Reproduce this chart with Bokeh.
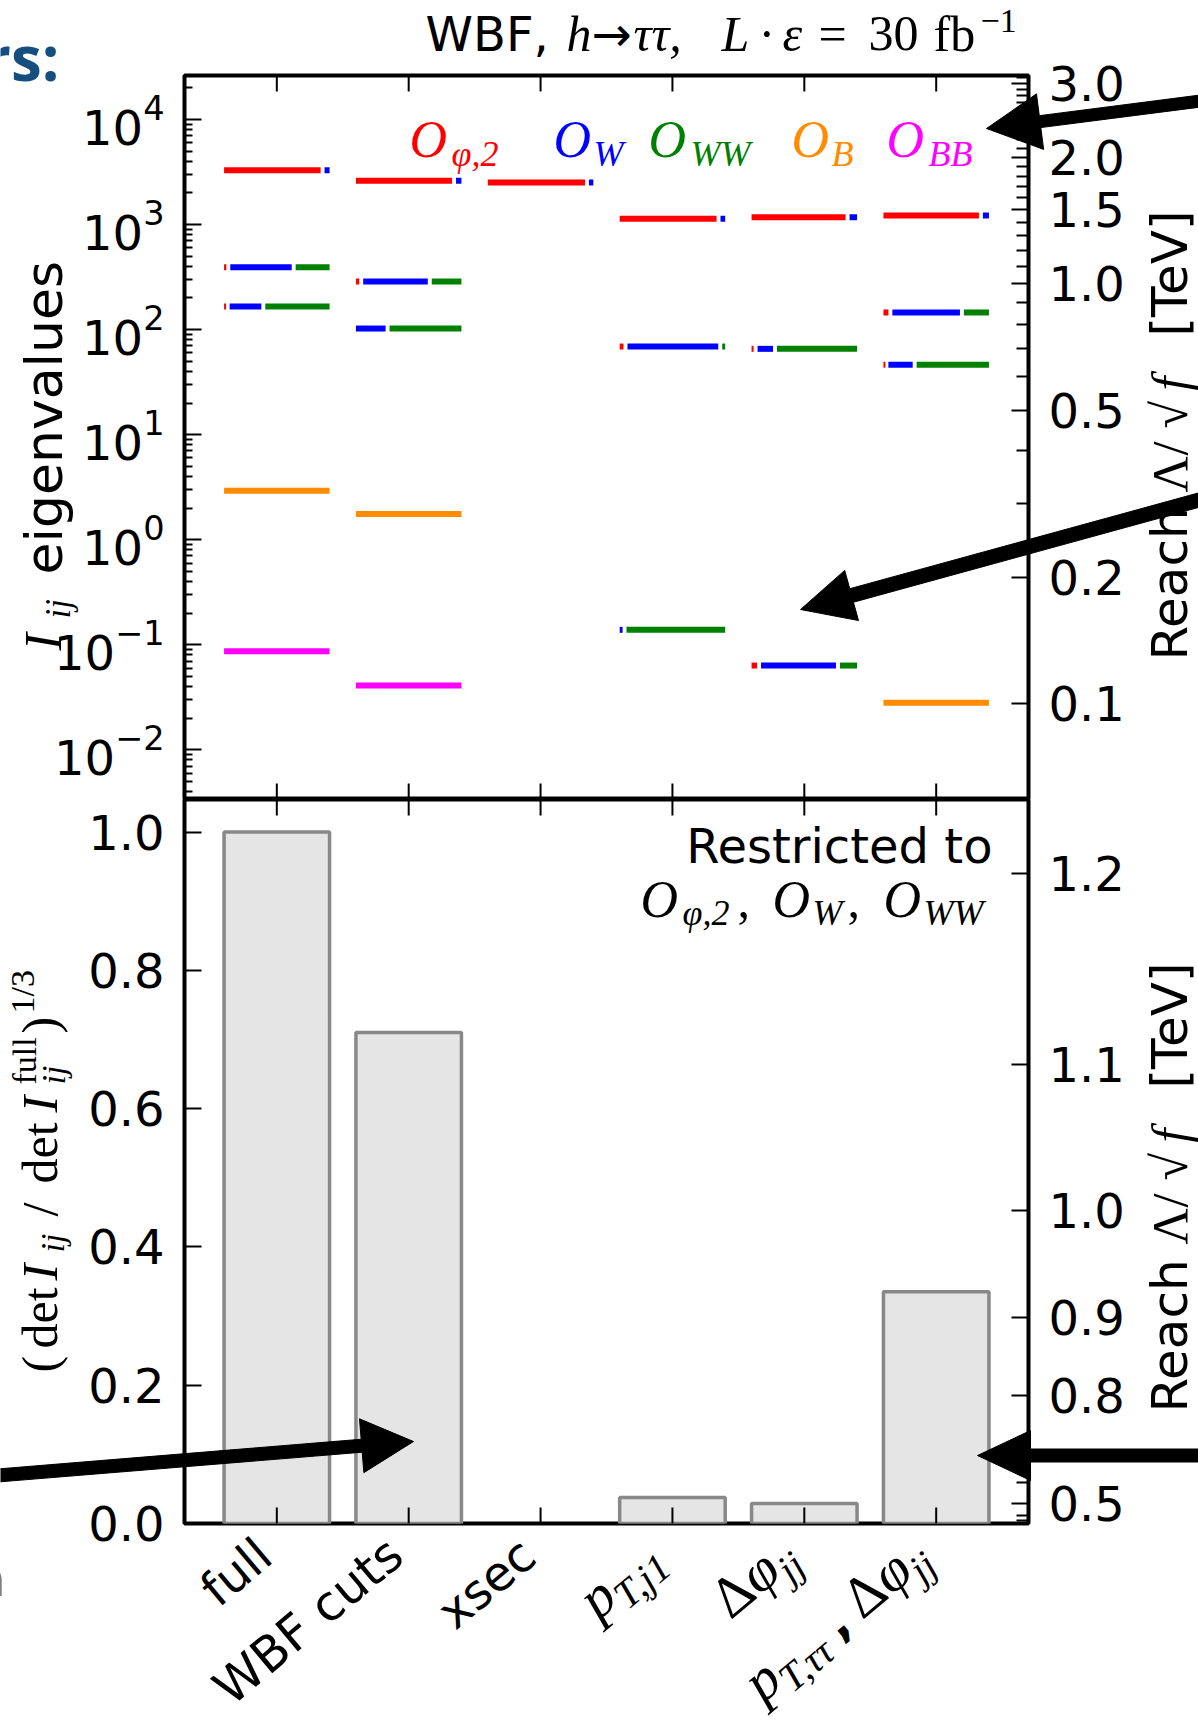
import math
from bokeh.plotting import figure
from bokeh.models import (Range1d, LinearAxis, FixedTicker, PrintfTickFormatter,
                          CustomJSTickFormatter, LogTickFormatter, Label, ColumnDataSource)
from bokeh.layouts import column
from bokeh.embed import file_html
from bokeh.resources import INLINE

# ---------------------------------------------------------------- data
CATEGORIES = ["full", "WBF cuts", "xsec", "p_T,j1", "Δφ_jj", "p_T,ττ, Δφ_jj"]
OPERATORS = ["O_φ,2", "O_W", "O_WW", "O_B", "O_BB"]
OP_COLORS = ["#ff0000", "#0000ff", "#008000", "#ff8c00", "#ff00ff"]

# Fisher-information eigenvalues per category
EIGENVALUES = [
    [3290, 393, 166, 2.92, 0.0869],
    [2608, 287, 102.4, 1.76, 0.0409],
    [2512],
    [1134, 69.0, 0.1387],
    [1175, 65.6, 0.0634],
    [1219, 145.6, 46.3, 0.0280],
]
# eigenvector composition (share of O_phi2, O_W, O_WW, O_B, O_BB)
EIGEN_MIX = [
    [[0.934, 0.066, 0, 0, 0], [0.04, 0.62, 0.34, 0, 0], [0.034, 0.338, 0.628, 0, 0],
     [0, 0, 0, 1, 0], [0, 0, 0, 0, 1]],
    [[0.93, 0.07, 0, 0, 0], [0.05, 0.65, 0.30, 0, 0], [0, 0.30, 0.70, 0, 0],
     [0, 0, 0, 1, 0], [0, 0, 0, 0, 1]],
    [[0.94, 0.06, 0, 0, 0]],
    [[0.937, 0.063, 0, 0, 0], [0.055, 0.898, 0.047, 0, 0], [0, 0.046, 0.954, 0, 0]],
    [[0.91, 0.09, 0, 0, 0], [0.038, 0.184, 0.778, 0, 0], [0.071, 0.748, 0.181, 0, 0]],
    [[0.924, 0.076, 0, 0, 0], [0.066, 0.678, 0.256, 0, 0], [0.028, 0.268, 0.704, 0, 0],
     [0, 0, 0, 1, 0]],
]
# (det I / det I_full)^(1/3), restricted to O_phi2, O_W, O_WW
DET_RATIO = [1.0, 0.71, 0.0, 0.0376, 0.029, 0.335]

LEFT_DECADES = [1e-2, 1e-1, 1e0, 1e1, 1e2, 1e3, 1e4]
LEFT_MINOR = [m * 10.0 ** k for k in range(-3, 5) for m in range(2, 10)]
BOT_LEFT_TICKS = [0.0, 0.2, 0.4, 0.6, 0.8, 1.0]

REACH_TOP_MAJOR = [0.1, 0.2, 0.5, 1.0, 1.5, 2.0, 3.0]
REACH_TOP_MINOR = [0.3, 0.4, 0.6, 0.7, 0.8, 0.9, 1.1, 1.2, 1.3, 1.4, 1.6, 1.7, 1.8, 1.9,
                   2.1, 2.2, 2.3, 2.4, 2.5, 2.6, 2.7, 2.8, 2.9, 3.1]
REACH_BOT_MAJOR = [0.5, 0.8, 0.9, 1.0, 1.1, 1.2]
REACH_BOT_MINOR = [0.3, 0.4, 0.6, 0.7]
EIGEN_AT_1TEV = 274.7      # eigenvalue that corresponds to a reach of 1 TeV
REACH_FULL = 1.2188        # reach [TeV] of the full analysis (ratio = 1)

TOP_Y = (10 ** -2.473, 10 ** 4.419)
BOT_Y = (0.0, 1.047)
X_RANGE = (-0.7, 5.7)

# ---------------------------------------------------------------- layout constants
W = 1198
FL, FR = 184, 1028          # frame left / right (canvas px)
TOP_T, MID, BOT_B, H = 75, 799, 1523, 1725
FRAME_H = MID - TOP_T
TICK_LEN = 16
BASE_SHIFT = 0.34           # baseline correction for annotation text (fraction of font size)

LS = "Liberation Serif"
DJ = "DejaVu Sans"
EMW = {
    DJ: {' ': .318, ',': .318, '.': .318, '(': .39, ')': .39, '[': .39, ']': .39, '/': .337,
         ':': .337, 'A': .684, 'B': .686, 'F': .575, 'R': .695, 'T': .611, 'V': .684,
         'W': .989, 'a': .613, 'b': .635, 'c': .55, 'd': .635, 'e': .615, 'f': .352,
         'g': .635, 'h': .634, 'i': .278, 'j': .278, 'l': .278, 'n': .634, 'o': .612,
         'p': .635, 'r': .411, 's': .521, 't': .392, 'u': .634, 'v': .592, 'x': .592},
    LS: {' ': .25, ',': .25, '(': .333, ')': .333, '/': .278, '=': .564, 'd': .5, 'e': .444,
         't': .278, 'f': .3, 'b': .5, 'u': .5, 'l': .278, 'i': .278, 'j': .3, 'p': .5,
         'h': .5, 'I': .333, 'L': .556, 'T': .58, 'W': .833, 'B': .611, 'O': .722,
         'Λ': .722, 'Δ': .65, '√': .549, 'τ': .46, 'φ': .55, 'ε': .44, '1': .5, '2': .5},
}


def tw(text, font, size):
    t = EMW.get(font, {})
    return sum(t.get(c, 0.55) for c in text) * size


def style_axis(ax, major=17, minor=8):
    ax.axis_line_color = None
    ax.major_tick_in = major
    ax.major_tick_out = 0
    ax.minor_tick_in = minor
    ax.minor_tick_out = 0
    ax.major_tick_line_width = 2
    ax.minor_tick_line_width = 2
    ax.major_tick_line_color = "black"
    ax.minor_tick_line_color = "black"
    ax.major_label_text_font = DJ
    ax.major_label_text_font_size = "48px"
    ax.major_label_text_color = "black"
    ax.major_label_standoff = 20


def panel(height, y_range, log, border_top, border_bottom, x_range):
    kw = dict(y_axis_type="log") if log else {}
    p = figure(width=W, height=height, x_range=x_range, y_range=y_range,
               x_axis_location=None, output_backend="svg", toolbar_location=None,
               min_border_left=FL, min_border_right=W - FR, min_border_top=border_top,
               min_border_bottom=border_bottom, outline_line_color="black",
               outline_line_width=4, background_fill_color="white",
               border_fill_color="white", **kw)
    p.grid.visible = False
    p.title.visible = False
    return p


# ================================================================ top panel
p1 = panel(MID, Range1d(*TOP_Y), True, TOP_T, 0, Range1d(*X_RANGE))
for ax in p1.yaxis:
    ax.ticker = FixedTicker(ticks=LEFT_DECADES, minor_ticks=LEFT_MINOR)
    ax.formatter = LogTickFormatter()
    style_axis(ax)

reach_lo = (TOP_Y[0] / EIGEN_AT_1TEV) ** 0.25
reach_hi = (TOP_Y[1] / EIGEN_AT_1TEV) ** 0.25
p1.extra_y_ranges = {"reach": Range1d(reach_lo, reach_hi)}
ax_r1 = LinearAxis(y_range_name="reach",
                   ticker=FixedTicker(ticks=REACH_TOP_MAJOR, minor_ticks=REACH_TOP_MINOR),
                   formatter=PrintfTickFormatter(format="%.1f"))
style_axis(ax_r1, major=17, minor=12)
p1.add_layout(ax_r1, "right")

# category tick marks on top and bottom edges (inward)
cat_x = list(range(len(CATEGORIES)))
k = 10 ** (TICK_LEN * math.log10(TOP_Y[1] / TOP_Y[0]) / FRAME_H)
p1.segment(x0=cat_x + cat_x, x1=cat_x + cat_x,
           y0=[TOP_Y[1]] * 6 + [TOP_Y[0]] * 6, y1=[TOP_Y[1] / k] * 6 + [TOP_Y[0] * k] * 6,
           line_color="black", line_width=2)

# eigenvalue lines, split into coloured pieces by eigenvector composition
HALF, GAP = 0.4, 0.03
seg = dict(x0=[], x1=[], y=[], color=[])
for i, (vals, mixes) in enumerate(zip(EIGENVALUES, EIGEN_MIX)):
    for v, mix in zip(vals, mixes):
        parts = [(kk, f) for kk, f in enumerate(mix) if f > 0]
        a = i - HALF
        for j, (kk, f) in enumerate(parts):
            b = a + 2 * HALF * f
            x0 = a + (GAP / 2 if j > 0 else 0.0)
            x1 = b - (GAP / 2 if j < len(parts) - 1 else 0.0)
            if x1 - x0 < 0.015:
                x1 = x0 + 0.015
            seg["x0"].append(x0)
            seg["x1"].append(x1)
            seg["y"].append(v)
            seg["color"].append(OP_COLORS[kk])
            a = b
p1.segment(x0="x0", y0="y", x1="x1", y1="y", line_color="color", line_width=6,
           line_cap="butt", source=ColumnDataSource(seg))


def inlabel(fig, fb, text, X, Y, size, font=LS, style="normal", color="black", align="left"):
    fig.add_layout(Label(x=X - FL, y=fb - Y + BASE_SHIFT * size, x_units="screen",
                         y_units="screen", text=text, text_align=align,
                         text_baseline="alphabetic", text_font=font,
                         text_font_size=f"{size}px", text_font_style=style, text_color=color))


# operator colour key
KEY_X = [(409, 451), (553, 593), (648, 690), (791, 831), (886, 928)]
KEY_SUB = ["φ,2", "W", "WW", "B", "BB"]
for (xo, xs), sub, col in zip(KEY_X, KEY_SUB, OP_COLORS):
    inlabel(p1, MID, "O", xo, 157, 52, style="italic", color=col)
    inlabel(p1, MID, sub, xs, 166, 36, style="italic", color=col)

# ================================================================ bottom panel
p2 = panel(H - MID, Range1d(*BOT_Y), False, 0, H - BOT_B, p1.x_range)
for ax in p2.yaxis:
    ax.ticker = FixedTicker(ticks=BOT_LEFT_TICKS, minor_ticks=[])
    ax.formatter = PrintfTickFormatter(format="%.1f")
    style_axis(ax)

ax_r2 = LinearAxis(ticker=FixedTicker(ticks=[(r / REACH_FULL) ** 4 for r in REACH_BOT_MAJOR],
                                      minor_ticks=[(r / REACH_FULL) ** 4 for r in REACH_BOT_MINOR]),
                   formatter=CustomJSTickFormatter(args=dict(R=REACH_FULL),
                                                   code="return (R*Math.pow(tick, 0.25)).toFixed(1);"))
style_axis(ax_r2, major=17, minor=12)
p2.add_layout(ax_r2, "right")

bar_x = [i for i, v in zip(cat_x, DET_RATIO) if v > 0]
bar_top = [v for v in DET_RATIO if v > 0]
p2.vbar(x=bar_x, top=bar_top, bottom=0, width=0.8,
        fill_color="#e5e5e5", line_color="#888888", line_width=3.5)

d = TICK_LEN * (BOT_Y[1] - BOT_Y[0]) / (BOT_B - MID)
p2.segment(x0=cat_x + cat_x, x1=cat_x + cat_x,
           y0=[BOT_Y[1]] * 6 + [BOT_Y[0]] * 6, y1=[BOT_Y[1] - d] * 6 + [BOT_Y[0] + d] * 6,
           line_color="black", line_width=2)

inlabel(p2, BOT_B, "Restricted to", 992, 862, 48, font=DJ, align="right")
for txt, X, sz, dy, st in [("O", 640, 52, 0, "italic"), ("φ,2", 682, 36, -8, "italic"),
                           (",", 737, 50, 0, "normal"), ("O", 772, 52, 0, "italic"),
                           ("W", 812, 36, -8, "italic"), (",", 847, 50, 0, "normal"),
                           ("O", 883, 52, 0, "italic"), ("WW", 923, 36, -8, "italic")]:
    inlabel(p2, BOT_B, txt, X, 917 - dy, sz, style=st)

# ================================================================ overlay (text & arrows outside the frames)
p0 = figure(width=W, height=H, x_range=Range1d(0, W), y_range=Range1d(H, 0),
            x_axis_location=None, y_axis_location=None, output_backend="svg",
            toolbar_location=None, min_border=0, min_border_left=0, min_border_right=0,
            min_border_top=0, min_border_bottom=0, outline_line_color=None,
            background_fill_color=None, border_fill_color=None,
            styles={"position": "absolute", "top": "0px", "left": "0px", "z-index": "10",
                    "pointer-events": "none"})
if "frame_align" in p0.properties():
    p0.frame_align = False
p0.grid.visible = False
p0.title.visible = False


def put(text, X, Y, size, font=DJ, style="normal", color="black", angle=0.0, align="left"):
    th = math.radians(angle)
    sh = BASE_SHIFT * size
    p0.add_layout(Label(x=X - sh * math.sin(th), y=Y - sh * math.cos(th), text=text,
                        angle=th, text_align=align, text_baseline="alphabetic",
                        text_font=font, text_font_size=f"{size}px",
                        text_font_style=style, text_color=color))


# title
put("WBF,", 425, 50, 48)
put("→", 591, 50, 48, font=DJ)
for txt, X, st, sz, dy in [("h", 566, "italic", 50, 0), ("ττ,", 633, "italic", 50, 0),
                           ("L", 721, "italic", 50, 0), ("·", 758, "normal", 50, 0),
                           ("ε", 782, "italic", 50, 0), ("=", 818, "normal", 50, 0),
                           ("30", 868, "normal", 50, 0), ("fb", 933, "normal", 50, 0),
                           ("−1", 980, "normal", 34, 18)]:
    put(txt, X, 50 - dy, sz, font=LS, style=st)

# left axis labels (rotated, reading upwards)
for txt, at, font, st, sz, dy in [("I", 0, LS, "italic", 52, 0), ("ij", 32, LS, "italic", 35, -9),
                                  ("eigenvalues", 76, DJ, "normal", 52, 0)]:
    put(txt, 61 - dy, 650 - at, sz, font=font, style=st, angle=90)

for txt, at, st, sz, dy in [("(", 0, "normal", 50, 0), ("det", 24, "normal", 50, 0),
                            ("I", 92, "italic", 50, 0), ("ij", 120, "italic", 34, -8),
                            ("/", 156, "normal", 50, 0), ("det", 189, "normal", 50, 0),
                            ("I", 260, "italic", 50, 0), ("ij", 288, "italic", 34, -9),
                            ("full", 288, "normal", 34, 20), (")", 339, "normal", 50, 0),
                            ("1/3", 359, "normal", 34, 22)]:
    put(txt, 56 - dy, 1372 - at, sz, font=LS, style=st, angle=90)

# right axis labels
REACH_PIECES = [("Reach", 0, DJ, "normal"), ("Λ", 168, LS, "normal"), ("/", 205, LS, "normal"),
                ("√", 232, LS, "normal"), ("f", 270, LS, "italic"), ("[TeV]", 324, DJ, "normal")]
for y0 in (660, 1412):
    for txt, at, font, st in REACH_PIECES:
        put(txt, 1186, y0 - at, 50, font=font, style=st, angle=90)

# rotated category labels
TICK_ANGLE = math.radians(40)
TICK_END_DX, TICK_END_Y = -2, 1560
XT_PIECES = [
    [("full", DJ, 48, "normal", 0)],
    [("WBF cuts", DJ, 49, "normal", 0)],
    [("xsec", DJ, 48, "normal", 0)],
    [("p", LS, 58, "italic", 0), ("T,j1", LS, 40, "italic", -11)],
    [("Δ", LS, 58, "normal", 0), ("φ", LS, 58, "italic", 0), ("jj", LS, 40, "italic", -11)],
    [("p", LS, 58, "italic", 0), ("T,ττ", LS, 40, "italic", -11), (", ", DJ, 48, "bold", 0),
     ("Δ", LS, 58, "normal", 0), ("φ", LS, 58, "italic", 0), ("jj", LS, 40, "italic", -11)],
]
ux, uy = math.cos(TICK_ANGLE), -math.sin(TICK_ANGLE)
vx, vy = -math.sin(TICK_ANGLE), -math.cos(TICK_ANGLE)
px_per_cat = (FR - FL) / (X_RANGE[1] - X_RANGE[0])
for i, pieces in enumerate(XT_PIECES):
    tick_X = FL + (i - X_RANGE[0]) * px_per_cat
    widths = [tw(t, f, s) for t, f, s, st, dy in pieces]
    s = -sum(widths)
    for (t, f, sz, st, dy), w in zip(pieces, widths):
        put(t, tick_X + TICK_END_DX + s * ux + dy * vx, TICK_END_Y + s * uy + dy * vy, sz,
            font=f, style=st, angle=40)
        s += w

# slide fragments around the figure
put("rs:", 59, 78, 62, font="Open Sans", style="bold", color="#174e80", align="right")
put("n", 5, 1593, 50, font="Open Sans", align="right")


def arrow_pts(tail, tip, shaft, head_w, head_len):
    (x0, y0), (x1, y1) = tail, tip
    L = math.hypot(x1 - x0, y1 - y0)
    ux_, uy_ = (x1 - x0) / L, (y1 - y0) / L
    nx, ny = -uy_, ux_
    bx, by = x1 - ux_ * head_len, y1 - uy_ * head_len
    pts = [(x0 + nx * shaft / 2, y0 + ny * shaft / 2), (bx + nx * shaft / 2, by + ny * shaft / 2),
           (bx + nx * head_w / 2, by + ny * head_w / 2), (x1, y1),
           (bx - nx * head_w / 2, by - ny * head_w / 2), (bx - nx * shaft / 2, by - ny * shaft / 2),
           (x0 - nx * shaft / 2, y0 - ny * shaft / 2)]
    return [p[0] for p in pts], [p[1] for p in pts]


ARROWS = [((1215, 98.6), (986, 128), 12, 56, 54),
          ((1215, 495), (800, 609), 14, 52, 53),
          ((-15, 1476), (413, 1441), 13, 54, 52),
          ((1215, 1455), (977, 1455), 13, 50, 53)]
axs, ays = zip(*[arrow_pts(*a) for a in ARROWS])
p0.patches(xs=list(axs), ys=list(ays), fill_color="black", line_color="black", line_width=1)

layout = column(p1, p2, p0, styles={"position": "relative"})
open("out.html", "w").write(file_html(layout, INLINE))
